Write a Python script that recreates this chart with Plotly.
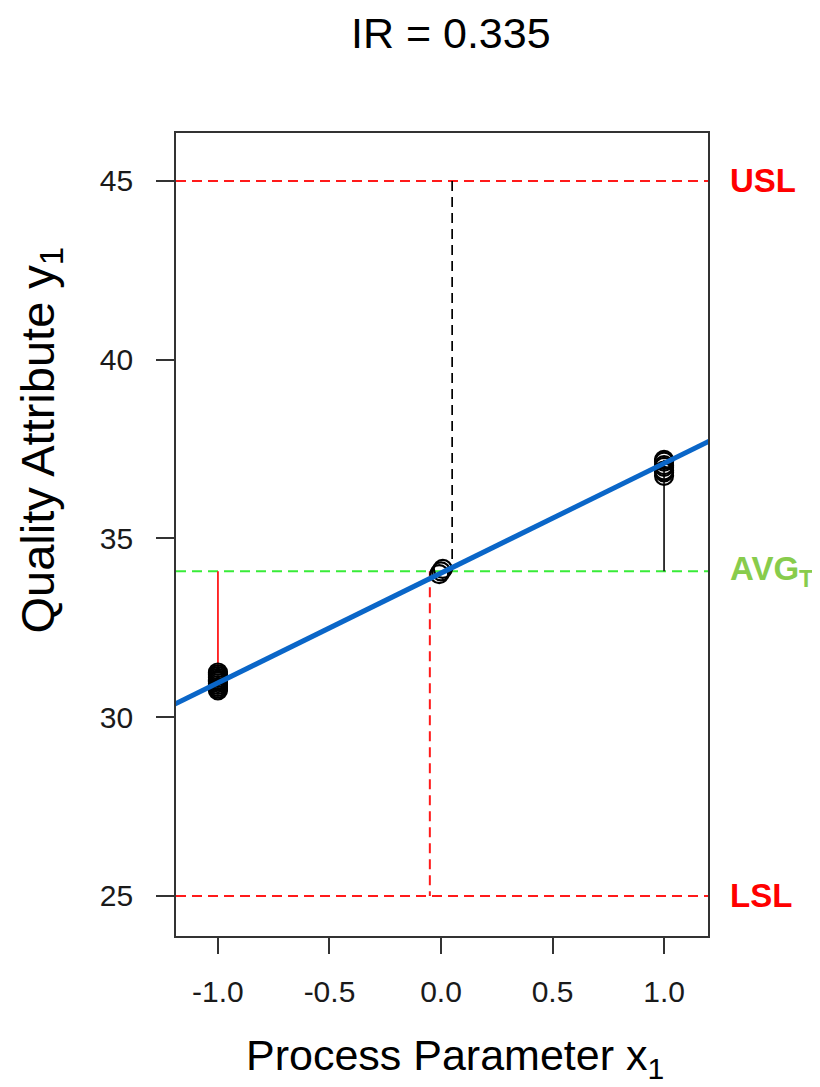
import plotly.graph_objects as go

# ---- data ----
x_low = [-1, -1, -1, -1, -1, -1, -1, -1, -1, -1, -1, -1]
y_low = [31.25, 31.2, 31.15, 31.1, 31.05, 31.02, 31.0, 30.95, 30.9, 30.85, 30.8, 30.75]
x_mid = [-0.008, 0.0, 0.008]
y_mid = [34.0, 34.08, 34.15]
x_high = [1, 1, 1, 1, 1, 1, 1]
y_high = [37.2, 37.15, 37.05, 37.0, 36.9, 36.85, 36.75]

fit_intercept = 34.03
fit_slope = 3.07

USL = 45
LSL = 25
AVG_T = 34.08
ir_text = "IR = 0.335"

x_ticks = [-1.0, -0.5, 0.0, 0.5, 1.0]
x_ticklabels = ["-1.0", "-0.5", "0.0", "0.5", "1.0"]
y_ticks = [25, 30, 35, 40, 45]

x_range = [-1.188, 1.197]
y_range = [23.88, 46.34]

fig = go.Figure()

dash = "10px,6px"
red = "#ff1a1a"
green = "#38ec38"

# horizontal reference lines
for yv, col in [(USL, red), (LSL, red), (AVG_T, green)]:
    fig.add_trace(go.Scatter(x=[x_range[0], x_range[1]], y=[yv, yv], mode="lines",
                             line=dict(color=col, width=2, dash=dash),
                             hoverinfo="skip", showlegend=False))

# vertical dashed lines
fig.add_trace(go.Scatter(x=[0.05, 0.05], y=[USL, AVG_T], mode="lines",
                         line=dict(color="black", width=1.7, dash=dash),
                         hoverinfo="skip", showlegend=False))
fig.add_trace(go.Scatter(x=[-0.05, -0.05], y=[AVG_T, LSL], mode="lines",
                         line=dict(color=red, width=2, dash=dash),
                         hoverinfo="skip", showlegend=False))
# vertical solid lines
fig.add_trace(go.Scatter(x=[-1, -1], y=[AVG_T, max(y_low)], mode="lines",
                         line=dict(color=red, width=1.8),
                         hoverinfo="skip", showlegend=False))
fig.add_trace(go.Scatter(x=[1, 1], y=[AVG_T, max(y_high)], mode="lines",
                         line=dict(color="#222222", width=1.8),
                         hoverinfo="skip", showlegend=False))

# points
for xs, ys in [(x_low, y_low), (x_mid, y_mid), (x_high, y_high)]:
    fig.add_trace(go.Scatter(x=xs, y=ys, mode="markers",
                             marker=dict(symbol="circle-open", size=18, color="black",
                                         line=dict(width=2.2, color="black")),
                             showlegend=False))

# fitted line
fx = [-1.4, 1.4]
fy = [fit_intercept + fit_slope * v for v in fx]
fig.add_trace(go.Scatter(x=fx, y=fy, mode="lines",
                         line=dict(color="#0a66c8", width=5),
                         hoverinfo="skip", showlegend=False))

font_main = "Liberation Sans, Arial, sans-serif"

fig.update_layout(
    width=820, height=1087,
    margin=dict(l=168, r=120, t=125, b=159),
    paper_bgcolor="white", plot_bgcolor="white",
    showlegend=False,
    xaxis=dict(range=x_range, tickvals=x_ticks, ticktext=x_ticklabels,
               showgrid=False, zeroline=False, showline=True, mirror=True,
               linecolor="#333333", linewidth=1.6, automargin=False,
               ticks="outside", ticklen=16, tickwidth=1.5, tickcolor="#333333",
               tickfont=dict(family=font_main, size=30, color="#1a1a1a"),
               ticklabelstandoff=12),
    yaxis=dict(range=y_range, tickvals=y_ticks,
               showgrid=False, zeroline=False, showline=True, mirror=True,
               linecolor="#333333", linewidth=1.6, automargin=False,
               ticks="outside", ticklen=18, tickwidth=1.5, tickcolor="#333333",
               tickfont=dict(family=font_main, size=30, color="#1a1a1a"),
               ticklabelstandoff=17),
)

ann = []
ann.append(dict(text=ir_text, xref="paper", yref="paper", x=0.517, y=1,
                xanchor="center", yanchor="middle", yshift=131 - 31,
                showarrow=False, font=dict(family=font_main, size=43, color="black")))
ann.append(dict(text="Process Parameter x<sub>1</sub>", xref="paper", yref="paper",
                x=0.525, y=0, xanchor="center", yanchor="middle", yshift=-(1056 - 934),
                showarrow=False, font=dict(family=font_main, size=43, color="black")))
ann.append(dict(text="Quality Attribute y<sub>1</sub>", xref="paper", yref="paper",
                x=0, y=0.5, xanchor="center", yanchor="middle", xshift=-(175 - 39),
                yshift=(532 - 438), textangle=-90,
                showarrow=False, font=dict(family=font_main, size=47, color="black")))
for txt, yv, col in [("USL", USL, "#ff0000"), ("LSL", LSL, "#ff0000"),
                     ("AVG<sub>T</sub>", AVG_T, "#88cc4c")]:
    ann.append(dict(text="<b>" + txt + "</b>", xref="paper", yref="y", x=1, y=yv,
                    xanchor="left", yanchor="middle", xshift=20,
                    showarrow=False, font=dict(family=font_main, size=33, color=col)))
fig.update_layout(annotations=ann)

fig.write_html("out.html")
